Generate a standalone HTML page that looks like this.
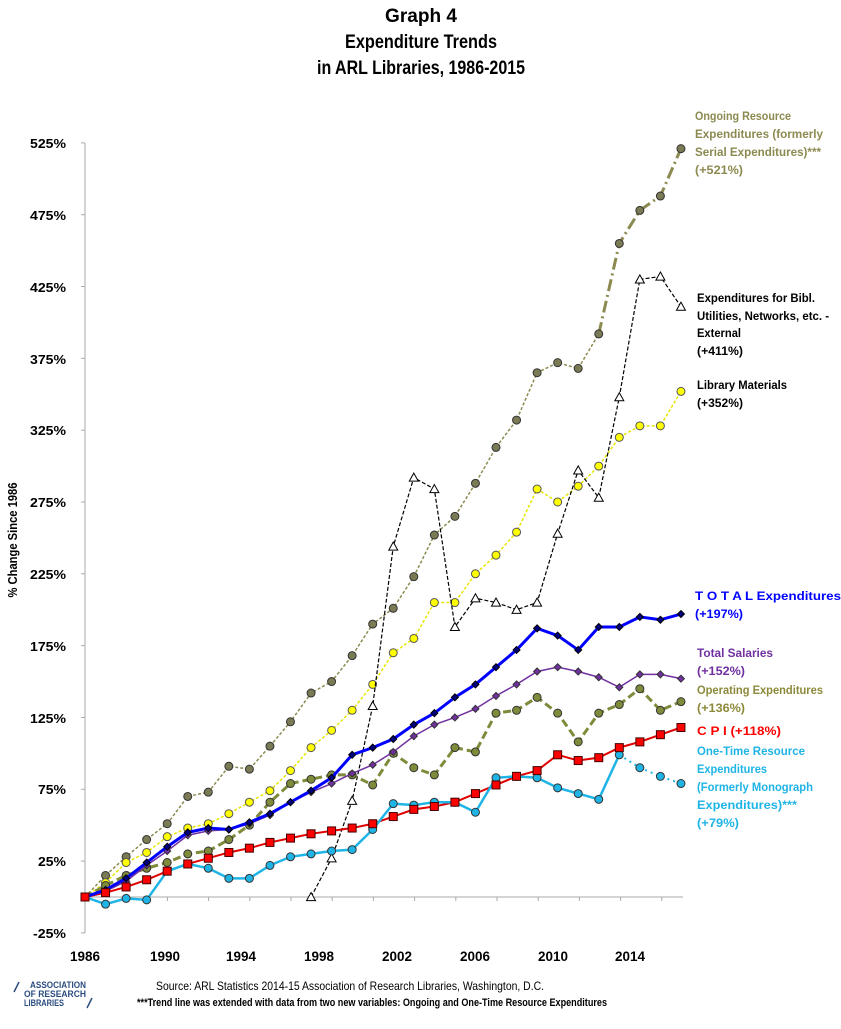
<!DOCTYPE html>
<html><head><meta charset="utf-8"><style>
body{margin:0;background:#fff;}
svg text{font-family:"Liberation Sans",sans-serif;}
</style></head><body>
<svg id="s" width="841" height="1024" viewBox="0 0 841 1024" xmlns="http://www.w3.org/2000/svg">
<g font-weight="bold" font-size="19" text-anchor="middle" fill="#000">
<text x="421" y="22" textLength="72" lengthAdjust="spacingAndGlyphs">Graph 4</text>
<text x="421" y="48" textLength="152" lengthAdjust="spacingAndGlyphs">Expenditure Trends</text>
<text x="421" y="74" textLength="208" lengthAdjust="spacingAndGlyphs">in ARL Libraries, 1986-2015</text>
</g>
<g font-weight="bold" font-size="13" text-anchor="end" fill="#000">
<text x="66" y="148" textLength="36" lengthAdjust="spacingAndGlyphs">525%</text>
<text x="66" y="220" textLength="36" lengthAdjust="spacingAndGlyphs">475%</text>
<text x="66" y="292" textLength="36" lengthAdjust="spacingAndGlyphs">425%</text>
<text x="66" y="364" textLength="36" lengthAdjust="spacingAndGlyphs">375%</text>
<text x="66" y="435" textLength="36" lengthAdjust="spacingAndGlyphs">325%</text>
<text x="66" y="507" textLength="36" lengthAdjust="spacingAndGlyphs">275%</text>
<text x="66" y="579" textLength="36" lengthAdjust="spacingAndGlyphs">225%</text>
<text x="66" y="651" textLength="36" lengthAdjust="spacingAndGlyphs">175%</text>
<text x="66" y="723" textLength="36" lengthAdjust="spacingAndGlyphs">125%</text>
<text x="66" y="794" textLength="28" lengthAdjust="spacingAndGlyphs">75%</text>
<text x="66" y="866" textLength="28" lengthAdjust="spacingAndGlyphs">25%</text>
<text x="66" y="938" textLength="33" lengthAdjust="spacingAndGlyphs">-25%</text>
</g>
<text transform="translate(17,540) rotate(-90)" font-weight="bold" font-size="13" text-anchor="middle" textLength="115" lengthAdjust="spacingAndGlyphs">% Change Since 1986</text>
<g font-weight="bold" font-size="14" text-anchor="middle">
<text x="85" y="961" textLength="30" lengthAdjust="spacingAndGlyphs">1986</text>
<text x="165" y="961" textLength="30" lengthAdjust="spacingAndGlyphs">1990</text>
<text x="241" y="961" textLength="30" lengthAdjust="spacingAndGlyphs">1994</text>
<text x="319" y="961" textLength="30" lengthAdjust="spacingAndGlyphs">1998</text>
<text x="397" y="961" textLength="30" lengthAdjust="spacingAndGlyphs">2002</text>
<text x="475" y="961" textLength="30" lengthAdjust="spacingAndGlyphs">2006</text>
<text x="553" y="961" textLength="30" lengthAdjust="spacingAndGlyphs">2010</text>
<text x="630" y="961" textLength="30" lengthAdjust="spacingAndGlyphs">2014</text>
</g>
<g id="axes" stroke="#aaa" stroke-width="1"></g>
<g id="series"></g>
<g font-weight="bold" font-size="12">
<g fill="#8c8a50">
<text x="695" y="120" textLength="96" lengthAdjust="spacingAndGlyphs">Ongoing Resource</text>
<text x="695" y="138" textLength="128" lengthAdjust="spacingAndGlyphs">Expenditures (formerly</text>
<text x="695" y="156" textLength="126" lengthAdjust="spacingAndGlyphs">Serial Expenditures)***</text>
<text x="695" y="174" textLength="48" lengthAdjust="spacingAndGlyphs">(+521%)</text>
</g>
<g fill="#000">
<text x="697" y="302" textLength="118" lengthAdjust="spacingAndGlyphs">Expenditures for Bibl.</text>
<text x="697" y="320" textLength="132" lengthAdjust="spacingAndGlyphs">Utilities, Networks, etc. -</text>
<text x="697" y="337" textLength="44" lengthAdjust="spacingAndGlyphs">External</text>
<text x="697" y="355" textLength="46" lengthAdjust="spacingAndGlyphs">(+411%)</text>
<text x="697" y="389" textLength="90" lengthAdjust="spacingAndGlyphs">Library Materials</text>
<text x="697" y="407" textLength="46" lengthAdjust="spacingAndGlyphs">(+352%)</text>
</g>
<g fill="#0000ff">
<text x="695" y="600" textLength="146" lengthAdjust="spacingAndGlyphs">T O T A L  Expenditures</text>
<text x="695" y="618" textLength="48" lengthAdjust="spacingAndGlyphs">(+197%)</text>
</g>
<g fill="#7030a0">
<text x="697" y="657" textLength="76" lengthAdjust="spacingAndGlyphs">Total Salaries</text>
<text x="697" y="675" textLength="48" lengthAdjust="spacingAndGlyphs">(+152%)</text>
</g>
<g fill="#8c8a3a">
<text x="697" y="694" textLength="126" lengthAdjust="spacingAndGlyphs">Operating Expenditures</text>
<text x="697" y="712" textLength="48" lengthAdjust="spacingAndGlyphs">(+136%)</text>
</g>
<text x="697" y="735" fill="#ff0000" textLength="84" lengthAdjust="spacingAndGlyphs">C P I  (+118%)</text>
<g fill="#1fb4e6">
<text x="697" y="755" textLength="108" lengthAdjust="spacingAndGlyphs">One-Time Resource</text>
<text x="697" y="773" textLength="70" lengthAdjust="spacingAndGlyphs">Expenditures</text>
<text x="697" y="791" textLength="116" lengthAdjust="spacingAndGlyphs">(Formerly Monograph</text>
<text x="697" y="809" textLength="100" lengthAdjust="spacingAndGlyphs">Expenditures)***</text>
<text x="697" y="827" textLength="42" lengthAdjust="spacingAndGlyphs">(+79%)</text>
</g>
</g>
<text x="350" y="990" font-size="12" text-anchor="middle" textLength="388" lengthAdjust="spacingAndGlyphs">Source: ARL Statistics 2014-15 Association of Research Libraries, Washington, D.C.</text>
<text x="372" y="1006" font-size="11" font-weight="bold" text-anchor="middle" textLength="470" lengthAdjust="spacingAndGlyphs">***Trend line was extended with data from two new variables: Ongoing and One-Time Resource Expenditures</text>
<g fill="#2b4c7e" font-weight="bold" font-size="9">
<text x="30" y="988" textLength="56" lengthAdjust="spacingAndGlyphs">ASSOCIATION</text>
<text x="24" y="997" textLength="62" lengthAdjust="spacingAndGlyphs">OF RESEARCH</text>
<text x="24" y="1006" textLength="40" lengthAdjust="spacingAndGlyphs">LIBRARIES</text>
<line x1="14" y1="992" x2="19" y2="982" stroke="#2b4c7e" stroke-width="1.5"/>
<line x1="87" y1="1008" x2="92" y2="998" stroke="#2b4c7e" stroke-width="1.5"/>
</g>
</svg>
<script>
var X=function(i){return 85+i*20.55;},Y=function(v){return 897-v*1.4364;};
var NS='http://www.w3.org/2000/svg',g=document.getElementById('series'),ax=document.getElementById('axes');
function el(t,a,p){var e=document.createElementNS(NS,t);for(var k in a)e.setAttribute(k,a[k]);(p||g).appendChild(e);return e;}
el('line',{x1:85,y1:143,x2:85,y2:933},ax);
for(var v=-25;v<=525;v+=50)el('line',{x1:81,y1:Y(v),x2:85,y2:Y(v)},ax);
el('line',{x1:85,y1:897,x2:683,y2:897},ax);
for(var i=0;i<=29;i+=2)el('line',{x1:85+i*20.6,y1:897,x2:85+i*20.6,y2:901},ax);
function line(pts,st,w,dash){el('polyline',{points:pts.map(function(p){return X(p[0])+','+Y(p[1]);}).join(' '),fill:'none',stroke:st,'stroke-width':w,'stroke-dasharray':dash||'none'});}
function arr(a,start){start=start||0;return a.map(function(v,i){return [i+start,v];});}
function marks(pts,type,fill,stroke,r){pts.forEach(function(p){var x=X(p[0]),y=Y(p[1]);
if(type=='c')el('circle',{cx:x,cy:y,r:r,fill:fill,stroke:stroke,'stroke-width':1});
else if(type=='s')el('rect',{x:x-r,y:y-r,width:2*r,height:2*r,fill:fill,stroke:stroke,'stroke-width':1});
else if(type=='d')el('polygon',{points:[x,y-r,x+r,y,x,y+r,x-r,y].join(' '),fill:fill,stroke:stroke,'stroke-width':1});
else if(type=='t')el('polygon',{points:[x,y-r,x+r,y+r*0.8,x-r,y+r*0.8].join(' '),fill:fill,stroke:stroke,'stroke-width':1});});}
var ong=[0,15,28,40,51,70,73,91,89,105,122,142,150,168,190,201,223,252,265,288,313,332,365,372,368,392,455,478,488,521];
var lib=[0,10,24,31,42,48,51,58,66,74,88,104,116,130,148,170,180,205,205,225,238,254,284,275,286,300,320,328,328,352];
var bib=[0,27,67,133,244,292,284,188,208,205,200,205,253,297,278,348,430,432,411];
var tot=[0,5,13,24,35,45,48,47,52,58,66,74,83,99,104,110,120,128,139,148,160,172,187,182,172,188,188,195,193,197];
var sal=[0,4,11,22,32,43,46,47,51,57,66,73,79,86,92,101,112,120,125,131,140,148,157,160,157,153,146,155,155,152];
var op=[0,8,15,20,24,30,32,40,50,66,79,82,85,85,78,100,90,85,104,101,128,130,139,128,108,128,134,145,130,136];
var cpi=[0,3,7,12,18,23,27,31,34,38,41,44,46,48,51,56,61,63,66,72,78,84,88,99,95,97,104,108,113,118];
var one=[0,-5,-1,-2,18,23,20,13,13,22,28,30,32,33,47,65,64,66,66,59,83,84,83,76,72,68,99,90,84,79];
var o=arr(ong);line(o.slice(0,26),'#8c8a50',1.5,'3,2');line(o.slice(25),'#8c8a50',3,'12,4,2,4');marks(o,'c','#7a7a55','#333',4);
var l=arr(lib);line(l,'#e6e600',1.5,'3,2');marks(l,'c','#ffff00','#555',4);
var b=arr(bib,11);line(b,'#000',1.2,'4,2');marks(b,'t','#fff','#000',4.5);
var c=arr(cpi);line(c,'#e00000',2);
var on=arr(one);line(on.slice(0,27),'#1fb4e6',2.5);line(on.slice(26),'#1fb4e6',2,'2,4');marks(on,'c','#1fb4e6','#333',4);
var p=arr(op);line(p,'#7f8a3a',3,'8,4');marks(p,'c','#7f8a3a','#333',4);
var s=arr(sal);line(s,'#7030a0',1.5);marks(s,'d','#7030a0','#333',3.5);
var t=arr(tot);line(t,'#0000ff',3);marks(t,'d','#000080','#000',3.5);
marks(c,'s','#ff0000','#400',4);
</script>
</body></html>
